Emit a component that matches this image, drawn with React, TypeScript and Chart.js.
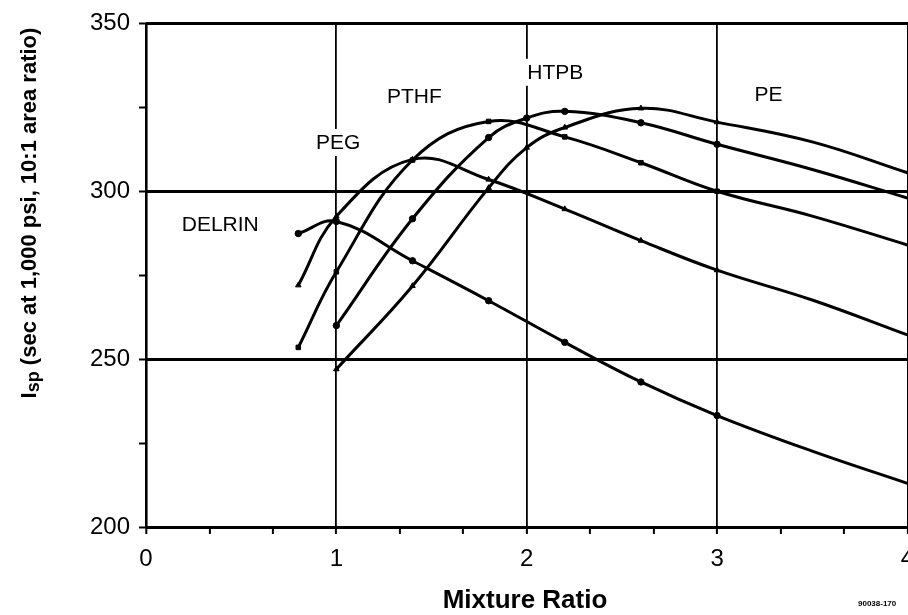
import React, { useEffect, useRef } from "react";
import { Chart, registerables } from "chart.js";

Chart.register(...registerables);

// Specific impulse vs. mixture ratio for five hybrid fuels
const DELRIN_MR = [0.8, 1.0, 1.4, 1.8, 2.2, 2.6, 3.0, 3.5, 4.0];
const DELRIN_ISP = [287.4, 291.0, 279.3, 267.4, 255.0, 243.2, 233.2, 222.6, 213.0];

const PEG_MR = [0.8, 1.0, 1.4, 1.8, 2.2, 2.6, 3.0, 3.5, 4.0];
const PEG_ISP = [272.0, 292.5, 309.5, 303.5, 294.7, 285.3, 276.5, 267.6, 257.2];

const PTHF_MR = [0.8, 1.0, 1.4, 1.8, 2.2, 2.6, 3.0, 3.5, 4.0];
const PTHF_ISP = [253.5, 276.0, 309.3, 320.8, 316.2, 308.5, 300.0, 292.6, 284.0];

const HTPB_MR = [1.0, 1.4, 1.8, 2.0, 2.2, 2.6, 3.0, 3.5, 4.0];
const HTPB_ISP = [260.0, 291.8, 316.0, 321.8, 323.8, 320.4, 314.0, 306.5, 298.0];

const PE_MR = [1.0, 1.4, 1.8, 2.0, 2.2, 2.6, 3.0, 3.5, 4.0];
const PE_ISP = [247.0, 271.8, 301.0, 313.0, 319.0, 324.7, 320.6, 314.7, 305.5];

const FUEL_NAMES = ["DELRIN", "PEG", "PTHF", "HTPB", "PE"];

const X_TICK_LABELS = [0, 1, 2, 3, 4];
const Y_TICK_LABELS = [200, 250, 300, 350];

const X_TITLE = "Mixture Ratio";
const Y_TITLE_MAIN = "I";
const Y_TITLE_SUB = "sp";
const Y_TITLE_REST = " (sec at 1,000 psi, 10:1 area ratio)";
const FIGURE_ID = "90038-170";

const FONT = "'Liberation Sans', Arial, Helvetica, sans-serif";

// where each fuel name sits, in data coordinates
const NAME_ANCHORS: Record<string, [number, number]> = {
  DELRIN: [0.39, 289.0],
  PEG: [1.01, 313.5],
  PTHF: [1.41, 327.0],
  HTPB: [2.15, 334.4],
  PE: [3.27, 327.6],
};

const isWhole = (v: number) => Math.abs(v - Math.round(v)) < 1e-6;

const toPoints = (xs: number[], ys: number[]) => xs.map((x, i) => ({ x, y: ys[i] }));

const textPlugin = {
  id: "figureText",
  beforeDatasetsDraw(chart: any) {
    const { ctx, scales } = chart;
    const xs = scales.x;
    const ys = scales.y;
    ctx.save();
    ctx.font = `21px ${FONT}`;
    ctx.textAlign = "center";
    ctx.textBaseline = "middle";
    FUEL_NAMES.forEach((name) => {
      const [mx, isp] = NAME_ANCHORS[name];
      const px = xs.getPixelForValue(mx);
      const py = ys.getPixelForValue(isp) - 3;
      const w = ctx.measureText(name).width;
      ctx.fillStyle = "#fff";
      ctx.fillRect(px - w / 2 - 3, py - 14, w + 6, 27);
      ctx.fillStyle = "#000";
      ctx.fillText(name, px, py);
    });
    ctx.restore();
  },
  afterDraw(chart: any) {
    const { ctx } = chart;
    ctx.save();
    ctx.fillStyle = "#000";

    // x axis title
    ctx.font = `bold 26px ${FONT}`;
    ctx.textAlign = "center";
    ctx.textBaseline = "middle";
    ctx.fillText(X_TITLE, 525, 601);

    // y axis title with subscript, reading upward
    const mainFont = `bold 22px ${FONT}`;
    const subFont = `bold 18px ${FONT}`;
    ctx.font = mainFont;
    const wMain = ctx.measureText(Y_TITLE_MAIN).width;
    const wRest = ctx.measureText(Y_TITLE_REST).width;
    ctx.font = subFont;
    const wSub = ctx.measureText(Y_TITLE_SUB).width;
    const total = wMain + wSub + wRest;
    ctx.translate(30, 213);
    ctx.rotate(-Math.PI / 2);
    ctx.textAlign = "left";
    ctx.textBaseline = "middle";
    let cx = -total / 2;
    ctx.font = mainFont;
    ctx.fillText(Y_TITLE_MAIN, cx, 0);
    cx += wMain;
    ctx.font = subFont;
    ctx.fillText(Y_TITLE_SUB, cx, 4);
    cx += wSub;
    ctx.font = mainFont;
    ctx.fillText(Y_TITLE_REST, cx, 0);
    ctx.setTransform(1, 0, 0, 1, 0, 0);

    // figure number
    ctx.font = `bold 8px ${FONT}`;
    ctx.textAlign = "left";
    ctx.textBaseline = "middle";
    ctx.fillText(FIGURE_ID, 858, 604);
    ctx.restore();
  },
};

function makeDataset(label: string, xs: number[], ys: number[], style: string) {
  return {
    label,
    data: toPoints(xs, ys),
    borderColor: "#000",
    backgroundColor: "#000",
    borderWidth: 3,
    pointStyle: style,
    pointRadius: xs.map((x) => (x <= 3.0 ? 3.2 : 0)),
    pointBorderWidth: 1,
    tension: 0.4,
    fill: false,
  };
}

export default function App() {
  const canvasRef = useRef<HTMLCanvasElement | null>(null);

  useEffect(() => {
    const canvas = canvasRef.current;
    if (!canvas) return;
    const chart = new Chart(canvas, {
      type: "line",
      data: {
        datasets: [
          makeDataset(FUEL_NAMES[0], DELRIN_MR, DELRIN_ISP, "circle"),
          makeDataset(FUEL_NAMES[1], PEG_MR, PEG_ISP, "triangle"),
          makeDataset(FUEL_NAMES[2], PTHF_MR, PTHF_ISP, "rect"),
          makeDataset(FUEL_NAMES[3], HTPB_MR, HTPB_ISP, "circle"),
          makeDataset(FUEL_NAMES[4], PE_MR, PE_ISP, "triangle"),
        ] as any,
      },
      options: {
        responsive: false,
        animation: false,
        devicePixelRatio: 1,
        layout: { padding: { top: 17, right: 1, left: 0, bottom: 0 } },
        plugins: {
          legend: { display: false },
          tooltip: { enabled: false },
          title: { display: false },
        },
        scales: {
          x: {
            type: "linear",
            min: 0,
            max: 4.25,
            afterBuildTicks: (scale: any) => {
              const ticks = [];
              for (let i = 0; i <= 3 * X_TICK_LABELS[X_TICK_LABELS.length - 1]; i++) {
                ticks.push({ value: i / 3 });
              }
              scale.ticks = ticks;
            },
            afterFit: (scale: any) => {
              scale.height = 88;
            },
            ticks: {
              autoSkip: false,
              maxRotation: 0,
              padding: 11,
              color: "#000",
              font: { family: FONT, size: 24 },
              callback: (v: any) => {
                const n = Number(v);
                return isWhole(n) && X_TICK_LABELS.includes(Math.round(n)) ? String(Math.round(n)) : "";
              },
            },
            grid: {
              color: (c: any) => (isWhole(c.tick.value) ? "#000" : "rgba(0,0,0,0)"),
              lineWidth: (c: any) => (Math.abs(c.tick.value) < 1e-6 ? 2.6 : 1.8),
              tickColor: "#000",
              tickWidth: 2,
              tickLength: 7,
            },
            border: { display: false },
          },
          y: {
            type: "linear",
            min: 200,
            max: 350,
            afterBuildTicks: (scale: any) => {
              const ticks = [];
              for (let v = 200; v <= 350; v += 25) ticks.push({ value: v });
              scale.ticks = ticks;
            },
            afterFit: (scale: any) => {
              scale.width = 146;
            },
            ticks: {
              autoSkip: false,
              padding: 9,
              color: "#000",
              font: { family: FONT, size: 24 },
              callback: (v: any) => (Y_TICK_LABELS.includes(Number(v)) ? String(v) : ""),
            },
            grid: {
              color: (c: any) => (Y_TICK_LABELS.includes(c.tick.value) ? "#000" : "rgba(0,0,0,0)"),
              lineWidth: 3,
              tickColor: "#000",
              tickWidth: 2,
              tickLength: 7,
            },
            border: { display: false },
          },
        },
      } as any,
      plugins: [textPlugin],
    });
    return () => chart.destroy();
  }, []);

  return (
    <div
      style={{
        position: "fixed",
        left: 0,
        top: 0,
        width: 908,
        height: 615,
        overflow: "hidden",
        background: "#fff",
      }}
    >
      <canvas ref={canvasRef} width={960} height={615} style={{ display: "block" }} />
    </div>
  );
}
